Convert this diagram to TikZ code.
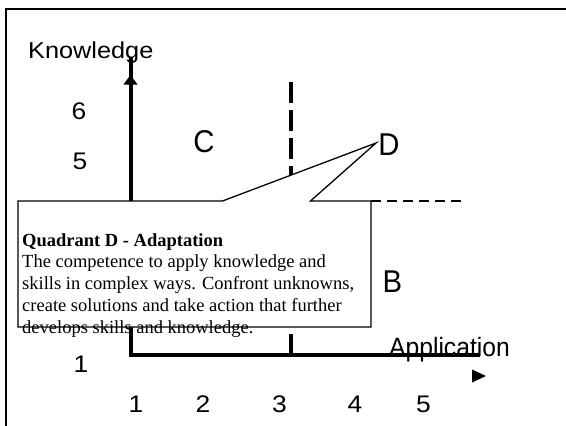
\documentclass[tikz,border=0pt]{standalone}
\usepackage{fontspec}
\setmainfont{Liberation Serif}
\newfontfamily\widesans[FakeStretch=1.1]{Liberation Sans}
\newfontfamily\narrowsans[FakeStretch=0.93]{Liberation Sans}
\begin{document}
\begin{tikzpicture}[x=1pt,y=-1pt]

\tikzset{
	frameline/.style={line width=2.4pt},
	axisline/.style={line width=4pt},
	quadline/.style={line width=3.3pt, dash pattern=on 21pt off 7pt},
	levelline/.style={line width=1.3pt, dash pattern=on 10pt off 6pt},
	callout/.style={line width=1.3pt, fill=white},
	desctext/.style={inner sep=0pt, align=left, font=\fontsize{18.5}{21.9}\selectfont},
	numlabel/.style={inner sep=0pt, font=\widesans\fontsize{24}{26}\selectfont},
	quadlabel/.style={inner sep=0pt, font=\narrowsans\fontsize{31.5}{34}\selectfont},
	axistitle/.style={inner sep=0pt, anchor=base west}
}

\useasboundingbox (0,0) rectangle (566,426);

% outer frame
\draw[frameline] (566,9) -- (6,9) -- (6,426);

% quadrant lines
\draw[quadline] (291,82) -- (291,354);
\draw[levelline] (371,201) -- (465,201);

% axes
\coordinate (ktop) at (130.5,57);
\coordinate (korigin) at (130.5,354.7);
\coordinate (aend) at (480,354.7);
\draw[axisline] (ktop) -- (korigin) -- (aend);
\fill (130.5,75) -- (123.5,84.5) -- (137.5,84.5) -- cycle;
\fill (472,369.5) -- (486,376) -- (472,382.5) -- cycle;

% callout for quadrant D
\draw[callout] (18,201) -- (222.5,201) -- (376,143) -- (310.5,201)
  -- (371,201) -- (371,327) -- (18,327) -- cycle;
\node[desctext, anchor=north west] (desc) at (22,233) {\textbf{Quadrant D - Adaptation}\\
The competence to apply knowledge and\\
skills in complex ways. Confront unknowns,\\
create solutions and take action that further\\
develops skills and knowledge.};

% axis titles
\node[axistitle, font=\widesans\fontsize{23}{26}\selectfont] (know) at (28,58.3) {Knowledge};
\node[axistitle, font=\narrowsans\fontsize{26.5}{29}\selectfont] (appl) at (389,356) {Application};

% quadrant letters
\node[quadlabel] (qc) at (204,141.5) {C};
\node[quadlabel] (qd) at (389,145) {D};
\node[quadlabel] (qb) at (392.5,281.5) {B};

% knowledge levels
\node[numlabel] (k6) at (79,111) {6};
\node[numlabel] (k5) at (80,161.5) {5};
\node[numlabel] (k1) at (81,364) {1};

% application levels
\foreach \lab/\xx in {1/136,2/203,3/279.5,4/355,5/423.5}
  \node[numlabel] (a\lab) at (\xx,404.5) {\lab};

\end{tikzpicture}
\end{document}
